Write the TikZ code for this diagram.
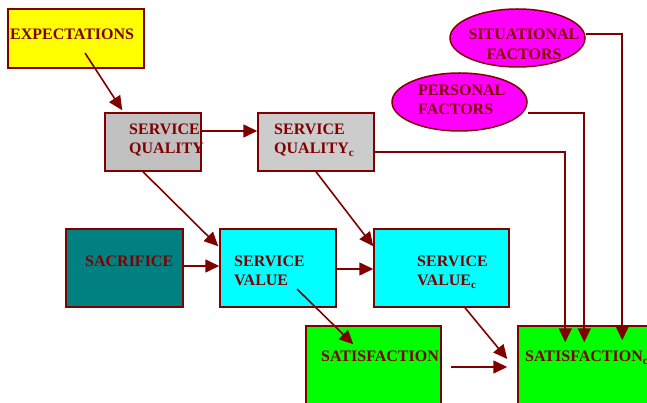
\documentclass[tikz,border=0pt]{standalone}
\usepackage{fontspec}
\setmainfont{Liberation Serif}
\usepackage{tikz}
\usetikzlibrary{positioning,calc,shapes.geometric,arrows.meta}

\definecolor{maroon}{RGB}{128,0,0}
\definecolor{teal}{RGB}{0,128,128}
\definecolor{silver}{RGB}{192,192,192}
\definecolor{lightsilver}{RGB}{204,204,204}
\definecolor{aqua}{RGB}{0,255,255}
\definecolor{fuchsia}{RGB}{255,0,255}
\definecolor{lime}{RGB}{0,255,0}
\definecolor{lemon}{RGB}{255,255,0}

\begin{document}
\begin{tikzpicture}[x=1pt, y=-1pt,
  box/.style={draw=maroon, line width=1.5pt, rectangle, inner sep=0pt},
  oval/.style={draw=maroon, line width=1.5pt, ellipse, fill=fuchsia, inner sep=0pt,
    minimum width=135pt, minimum height=58pt},
  lbl/.style={text=maroon, font=\fontsize{16}{19.5}\selectfont\bfseries, inner sep=0pt},
  link/.style={maroon, line width=1.6pt, -{Triangle[length=14pt,width=13pt]}}]

 \useasboundingbox (0,0) rectangle (647,403);
 \clip (0,0) rectangle (647,403);

 % boxes
 \node[box, fill=lemon, minimum width=136pt, minimum height=59pt] (exp) at (76,38.5) {};
 \node[box, fill=silver, minimum width=96pt, minimum height=58pt] (sq) at (153,142) {};
 \node[box, fill=lightsilver, minimum width=116pt, minimum height=58pt] (sqc) at (316,142) {};
 \node[box, fill=teal, minimum width=117pt, minimum height=78pt] (sac) at (124.5,268) {};
 \node[box, fill=aqua, minimum width=116pt, minimum height=78pt] (sv) at (278,268) {};
 \node[box, fill=aqua, minimum width=135pt, minimum height=78pt] (svc) at (441.5,268) {};
 \node[box, fill=lime, minimum width=135pt, minimum height=88pt] (sat) at (373.5,370) {};
 \node[box, fill=lime, minimum width=142pt, minimum height=88pt] (satc) at (589,370) {};
 \node[oval] (sit) at (517.5,38) {};
 \node[oval] (per) at (459.5,102) {};

 % labels (base = last line)
 \node[lbl, anchor=base west] (explbl) at (10,40) {EXPECTATIONS};
 \node[lbl, anchor=base west, align=left] (sqlbl) at (129,154) {SERVICE\\QUALITY};
 \node[lbl, anchor=base west, align=left] (sqclbl) at (274,154) {SERVICE\\QUALITY\textsubscript{c}};
 \node[lbl, anchor=base west] (saclbl) at (85,266.5) {SACRIFICE};
 \node[lbl, anchor=base west, align=left] (svlbl) at (234,285.5) {SERVICE\\VALUE};
 \node[lbl, anchor=base west, align=left] (svclbl) at (417,285.5) {SERVICE\\VALUE\textsubscript{c}};
 \node[lbl, anchor=base west] (satlbl) at (321,361.5) {SATISFACTION};
 \node[lbl, anchor=base west] (satclbl) at (525,361.5) {SATISFACTION\textsubscript{c}};
 \node[lbl, anchor=base, align=center] (sitlbl) at (524,59.5) {SITUATIONAL\\FACTORS};
 \node[lbl, anchor=base west, align=left] (perlbl) at (418,115) {PERSONAL\\FACTORS};

 % arrows
 \draw[link] ($(exp.center)+(9,14.5)$) -- ($(sq.north west)+(18,-2)$);
 \draw[link] ($(sq.east)+(0,-11)$) -- ($(sqc.west)+(0,-11)$);
 \draw[link] ($(sq.south)+(-10,0)$) -- ($(sv.north west)+(-1,18)$);
 \draw[link] (sqc.south) -- ($(svc.north west)+(0,18)$);
 \draw[link] ($(sac.east)+(0,-2)$) -- ($(sv.west)+(0,-2)$);
 \draw[link] ($(sv.east)+(0,1)$) -- ($(svc.west)+(0,1)$);
 \draw[link] ($(sv.center)+(19,21)$) -- ($(sat.north west)+(48,19)$);
 \draw[link] ($(svc.south)+(23.5,0)$) -- ($(satc.west)+(-10,-11)$);
 \draw[link] ($(sat.east)+(9,-3)$) -- ($(satc.west)+(-10,-3)$);

 \draw[link] ($(sqc.east)+(0,10)$) -| ($(satc.north west)+(48,17)$);
 \draw[link] ($(per.east)+(0,11)$) -| ($(satc.north west)+(67,17)$);
 \draw[link] ($(sit.east)+(0,-4)$) -| ($(satc.north west)+(105,15)$);

\end{tikzpicture}
\end{document}
